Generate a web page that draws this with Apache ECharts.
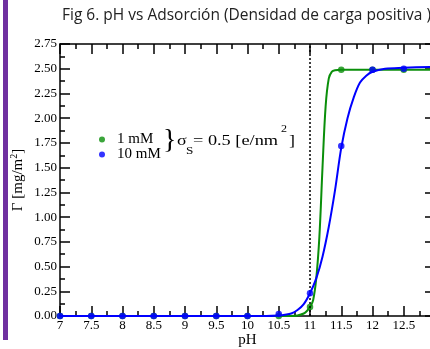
<!DOCTYPE html>
<html>
<head>
<meta charset="utf-8">
<script src="https://cdn.jsdelivr.net/npm/echarts@6/dist/echarts.min.js"></script>
<style>
html,body{margin:0;padding:0;background:#fff;}
#chart{width:430px;height:349px;}
</style>
</head>
<body>
<div id="chart"></div>
<script>
// Measured points
const phPoints = [7, 7.5, 8, 8.5, 9, 9.5, 10, 10.5, 11, 11.5, 12, 12.5, 13];
const gamma1mM = [0, 0, 0, 0, 0, 0, 0, 0, 0.09, 2.49, 2.49, 2.49, 2.49];
const gamma10mM = [0, 0, 0, 0, 0, 0, 0, 0.02, 0.23, 1.72, 2.49, 2.50, 2.51];

// Fitted curves
const fitPh1mM = [7, 10, 10.5, 10.7, 10.8, 10.9, 10.95, 11.0, 11.05, 11.1, 11.15, 11.2, 11.25, 11.3, 11.35, 11.4, 11.5, 12, 13];
const fit1mM = [0, 0, 0, 0, 0.005, 0.025, 0.05, 0.09, 0.16, 0.38, 0.80, 1.50, 2.12, 2.40, 2.47, 2.485, 2.49, 2.49, 2.49];
const fitPh10mM = [7, 10, 10.3, 10.5, 10.6, 10.7, 10.8, 10.9, 11.0, 11.1, 11.2, 11.3, 11.4, 11.5, 11.6, 11.7, 11.8, 11.9, 12.0, 12.2, 12.5, 13];
const fit10mM = [0, 0, 0, 0.005, 0.012, 0.025, 0.06, 0.12, 0.23, 0.38, 0.60, 0.90, 1.27, 1.70, 2.00, 2.21, 2.36, 2.43, 2.47, 2.50, 2.51, 2.52];

const seriesNames = ['1 mM', '10 mM'];
const titleText = 'Fig 6. pH vs Adsorción (Densidad de carga positiva )';
const xName = 'pH';

const GREEN = '#0a8f0a';
const BLUE = '#0000ff';
const SERIF = '"Liberation Serif", "DejaVu Serif", serif';

const pairs = (xs, ys) => xs.map((x, i) => [x, ys[i]]);

const chart = echarts.init(document.getElementById('chart'), null, {renderer: 'canvas'});

const axisCommon = {
  axisLine: {show: true, onZero: false, lineStyle: {color: '#000', width: 1.5}},
  axisTick: {show: true, inside: true, length: 10, lineStyle: {color: '#000', width: 1.5}},
  minorTick: {show: true, splitNumber: 2, length: 5, lineStyle: {color: '#000', width: 1.5}},
  splitLine: {show: false},
  minorSplitLine: {show: false}
};

chart.setOption({
  animation: false,
  backgroundColor: '#fff',
  title: {
    text: titleText,
    left: 57, top: 3,
    textStyle: {fontFamily: '"Open Sans", sans-serif', fontSize: 15.5, fontWeight: 'normal', color: '#222'}
  },
  grid: {left: 60, top: 44, width: 375, height: 272, containLabel: false, outerBoundsMode: 'none'},
  legend: {
    data: seriesNames,
    orient: 'vertical',
    left: 94, top: 127,
    itemGap: 0,
    itemWidth: 6, itemHeight: 6,
    icon: 'circle',
    textStyle: {fontFamily: SERIF, fontSize: 15, color: '#000', lineHeight: 14, padding: [0, 0, 0, 7]}
  },
  xAxis: [
    Object.assign({
      type: 'value', min: 7, max: 13, interval: 0.5, position: 'bottom',
      name: xName, nameLocation: 'middle', nameGap: 17, nameMoveOverlap: false,
      nameTextStyle: {fontFamily: SERIF, fontSize: 15, color: '#000'},
      axisLabel: {fontFamily: SERIF, fontSize: 13, color: '#000', margin: 3, showMaxLabel: false}
    }, axisCommon),
    Object.assign({
      type: 'value', min: 7, max: 13, interval: 0.5, position: 'top',
      axisLabel: {show: false}
    }, axisCommon)
  ],
  yAxis: [
    Object.assign({
      type: 'value', min: 0, max: 2.75, interval: 0.25, position: 'left',
      name: '{m|Γ [mg/m}{s|2}{m|]}', nameLocation: 'middle', nameGap: 33, nameMoveOverlap: false,
      nameTextStyle: {
        rich: {
          m: {fontFamily: SERIF, fontSize: 15, color: '#000'},
          s: {fontFamily: SERIF, fontSize: 10, color: '#000', verticalAlign: 'top', padding: [0, 0, 8, 0]}
        }
      },
      axisLabel: {fontFamily: SERIF, fontSize: 13, color: '#000', margin: 3, formatter: v => v.toFixed(2)}
    }, axisCommon),
    Object.assign({
      type: 'value', min: 0, max: 2.75, interval: 0.25, position: 'right',
      axisLabel: {show: false}
    }, axisCommon)
  ],
  series: [
    {
      name: '1 mM ajuste', type: 'line', data: pairs(fitPh1mM, fit1mM),
      showSymbol: false, smooth: 0.35,
      lineStyle: {color: GREEN, width: 2}, itemStyle: {color: GREEN}, z: 3,
      markLine: {
        silent: true, symbol: 'none', label: {show: false},
        lineStyle: {color: '#000', type: [2, 2], width: 1.5},
        data: [{xAxis: 11}]
      }
    },
    {
      name: '1 mM', type: 'scatter', data: pairs(phPoints, gamma1mM),
      symbol: 'circle', symbolSize: 6.5, itemStyle: {color: GREEN}, z: 4
    },
    {
      name: '10 mM ajuste', type: 'line', data: pairs(fitPh10mM, fit10mM),
      showSymbol: false, smooth: 0.35,
      lineStyle: {color: BLUE, width: 2}, itemStyle: {color: BLUE}, z: 5
    },
    {
      name: '10 mM', type: 'scatter', data: pairs(phPoints, gamma10mM),
      symbol: 'circle', symbolSize: 6.5, itemStyle: {color: BLUE}, z: 6
    }
  ],
  graphic: [
    {type: 'rect', left: 3, top: 0, shape: {width: 5, height: 340}, style: {fill: '#7030a0'}, z: 10},
    {type: 'text', x: 163, y: 141, style: {text: '}', fontFamily: SERIF, fontSize: 28, fill: '#000', align: 'left', verticalAlign: 'middle'}},
    {type: 'text', x: 177, y: 141, scaleX: 1.2, style: {text: 'σ', fontFamily: SERIF, fontSize: 15, fill: '#000', align: 'left', verticalAlign: 'middle'}},
    {type: 'text', x: 186, y: 151, scaleX: 1.2, style: {text: 'S', fontFamily: SERIF, fontSize: 11, fill: '#000', align: 'left', verticalAlign: 'middle'}},
    {type: 'text', x: 193, y: 141, scaleX: 1.22, style: {text: '= 0.5 [e/nm', fontFamily: SERIF, fontSize: 15, fill: '#000', align: 'left', verticalAlign: 'middle'}},
    {type: 'text', x: 281, y: 129, scaleX: 1.2, style: {text: '2', fontFamily: SERIF, fontSize: 10, fill: '#000', align: 'left', verticalAlign: 'middle'}},
    {type: 'text', x: 289, y: 141, scaleX: 1.2, style: {text: ']', fontFamily: SERIF, fontSize: 15, fill: '#000', align: 'left', verticalAlign: 'middle'}}
  ]
});
</script>
</body>
</html>
